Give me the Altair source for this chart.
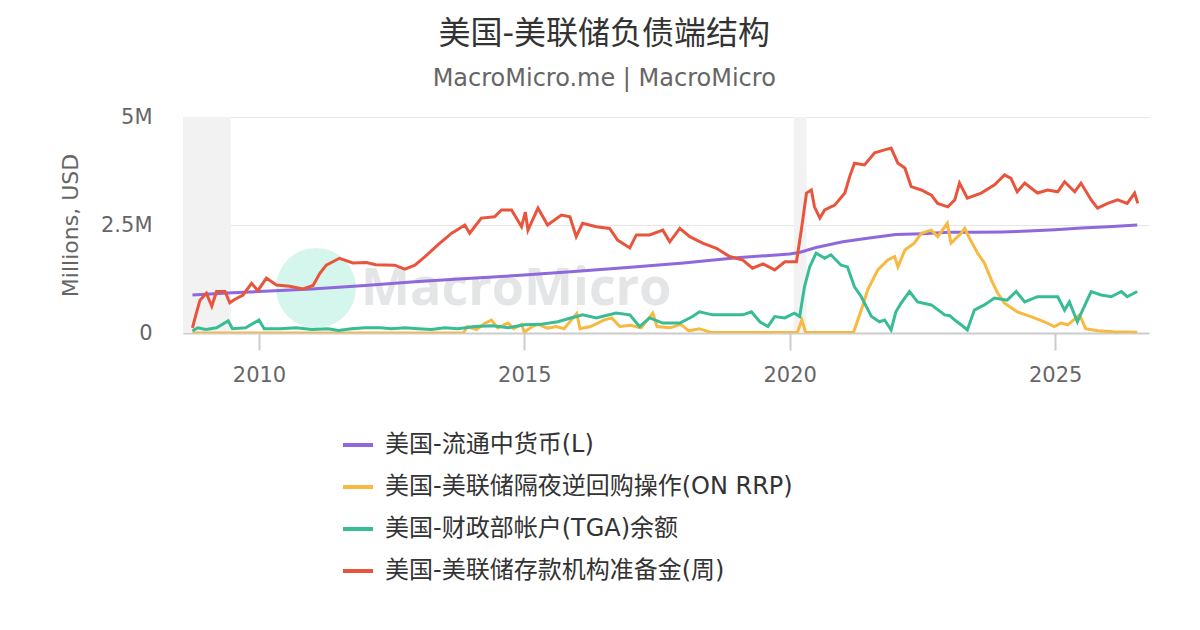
import altair as alt
import pandas as pd

FONT = "DejaVu Sans, 'Noto Sans CJK SC', sans-serif"

# ---- series names / colours (legend order) ----
names = ["美国-流通中货币(L)", "美国-美联储隔夜逆回购操作(ON RRP)",
         "美国-财政部帐户(TGA)余额", "美国-美联储存款机构准备金(周)"]
colors = ["#8f68dc", "#f7b940", "#38bc96", "#e8553c"]

# ---- currency in circulation (values in M of USD millions) ----
cur_t = [2008.75, 2009.5, 2010.0, 2011.0, 2012.0, 2013.0, 2014.0, 2015.0, 2016.0,
         2017.0, 2018.0, 2019.0, 2019.56, 2020.0, 2020.2, 2020.5, 2021.0, 2021.5,
         2022.0, 2022.5, 2023.0, 2023.5, 2024.0, 2024.5, 2025.0, 2025.5, 2026.0, 2026.55]
cur_v = [0.88, 0.93, 0.96, 1.02, 1.10, 1.19, 1.27, 1.34, 1.43,
         1.52, 1.62, 1.74, 1.79, 1.83, 1.87, 1.98, 2.11, 2.20,
         2.28, 2.30, 2.33, 2.33, 2.34, 2.36, 2.39, 2.43, 2.46, 2.50]

# ---- ON RRP ----
rrp_t = [2008.75, 2013.85, 2013.93, 2014.1, 2014.25, 2014.38, 2014.5, 2014.69, 2014.8,
         2014.95, 2015.0, 2015.15, 2015.26, 2015.44, 2015.6, 2015.75, 2015.99, 2016.05,
         2016.25, 2016.5, 2016.65, 2016.8, 2017.0, 2017.2, 2017.42, 2017.5, 2017.75,
         2017.95, 2018.1, 2018.3, 2018.5, 2019.0, 2019.5, 2020.15, 2020.23, 2020.3,
         2021.2, 2021.35, 2021.47, 2021.66, 2021.85, 2021.98, 2022.04, 2022.17, 2022.35,
         2022.48, 2022.67, 2022.79, 2022.97, 2023.04, 2023.23, 2023.3, 2023.39, 2023.54,
         2023.67, 2023.8, 2023.92, 2024.05, 2024.29, 2024.55, 2024.8, 2024.99, 2025.11,
         2025.24, 2025.46, 2025.58, 2025.8, 2026.1, 2026.55]
rrp_v = [0.0, 0.0, 0.15, 0.08, 0.22, 0.30, 0.12, 0.23, 0.10,
         0.20, 0.02, 0.15, 0.20, 0.11, 0.15, 0.10, 0.45, 0.10,
         0.15, 0.30, 0.35, 0.15, 0.18, 0.12, 0.46, 0.15, 0.12,
         0.20, 0.05, 0.10, 0.02, 0.01, 0.01, 0.02, 0.30, 0.02,
         0.01, 0.53, 1.00, 1.46, 1.69, 1.77, 1.53, 1.92, 2.08,
         2.31, 2.38, 2.23, 2.54, 2.08, 2.31, 2.42, 2.19, 1.85,
         1.62, 1.23, 0.92, 0.69, 0.49, 0.38, 0.26, 0.15, 0.23,
         0.19, 0.42, 0.10, 0.05, 0.03, 0.02]

# ---- Treasury General Account ----
tga_t = [2008.75, 2008.85, 2009.0, 2009.2, 2009.42, 2009.5, 2009.75, 2010.0, 2010.1,
         2010.4, 2010.7, 2011.0, 2011.3, 2011.5, 2011.75, 2012.0, 2012.3, 2012.5,
         2012.75, 2013.0, 2013.25, 2013.5, 2013.75, 2014.07, 2014.4, 2014.7, 2015.0,
         2015.3, 2015.63, 2015.86, 2016.1, 2016.36, 2016.73, 2016.99, 2017.17, 2017.36,
         2017.61, 2017.93, 2018.17, 2018.3, 2018.55, 2018.87, 2019.12, 2019.28, 2019.44,
         2019.59, 2019.72, 2019.91, 2020.09, 2020.19, 2020.28, 2020.38, 2020.5, 2020.66,
         2020.78, 2020.97, 2021.09, 2021.22, 2021.35, 2021.54, 2021.69, 2021.79, 2021.91,
         2022.0, 2022.1, 2022.26, 2022.41, 2022.67, 2022.92, 2023.02, 2023.11, 2023.23,
         2023.35, 2023.48, 2023.67, 2023.86, 2024.1, 2024.27, 2024.43, 2024.67, 2024.93,
         2025.05, 2025.18, 2025.27, 2025.42, 2025.52, 2025.68, 2025.87, 2026.06, 2026.25,
         2026.36, 2026.55]
tga_v = [0.05, 0.12, 0.08, 0.12, 0.28, 0.10, 0.12, 0.30, 0.10,
         0.10, 0.12, 0.08, 0.10, 0.06, 0.10, 0.12, 0.12, 0.10,
         0.12, 0.10, 0.08, 0.12, 0.10, 0.15, 0.17, 0.12, 0.19,
         0.20, 0.26, 0.34, 0.42, 0.35, 0.46, 0.42, 0.15, 0.35,
         0.23, 0.23, 0.38, 0.49, 0.42, 0.42, 0.42, 0.49, 0.26,
         0.15, 0.38, 0.35, 0.46, 0.38, 1.07, 1.53, 1.85, 1.73,
         1.81, 1.57, 1.53, 1.07, 0.84, 0.38, 0.26, 0.30, 0.07,
         0.49, 0.69, 0.96, 0.72, 0.65, 0.42, 0.40, 0.30, 0.19,
         0.07, 0.53, 0.65, 0.81, 0.76, 0.96, 0.72, 0.84, 0.84,
         0.84, 0.53, 0.72, 0.26, 0.53, 0.96, 0.88, 0.84, 0.96,
         0.84, 0.96]

# ---- reserve balances (weekly) ----
res_t = [2008.75, 2008.82, 2008.89, 2009.01, 2009.11, 2009.2, 2009.36, 2009.45, 2009.55,
         2009.7, 2009.86, 2009.98, 2010.14, 2010.33, 2010.58, 2010.83, 2011.02, 2011.15,
         2011.27, 2011.52, 2011.77, 2012.03, 2012.2, 2012.56, 2012.75, 2012.94, 2013.13,
         2013.37, 2013.63, 2013.88, 2013.97, 2014.19, 2014.44, 2014.57, 2014.76, 2014.95,
         2015.02, 2015.07, 2015.26, 2015.44, 2015.7, 2015.86, 2015.98, 2016.1, 2016.36,
         2016.61, 2016.76, 2016.99, 2017.11, 2017.36, 2017.61, 2017.74, 2017.93, 2018.12,
         2018.36, 2018.62, 2018.87, 2019.12, 2019.3, 2019.5, 2019.72, 2019.91, 2020.13,
         2020.22, 2020.32, 2020.41, 2020.47, 2020.57, 2020.66, 2020.85, 2021.04, 2021.13,
         2021.22, 2021.41, 2021.6, 2021.79, 2021.91, 2022.04, 2022.17, 2022.29, 2022.48,
         2022.67, 2022.79, 2022.98, 2023.11, 2023.2, 2023.35, 2023.61, 2023.86, 2024.05,
         2024.17, 2024.29, 2024.43, 2024.67, 2024.86, 2025.05, 2025.18, 2025.37, 2025.49,
         2025.68, 2025.8, 2025.99, 2026.18, 2026.36, 2026.5, 2026.56]
res_v = [0.12, 0.45, 0.76, 0.92, 0.62, 0.96, 0.96, 0.70, 0.78,
         0.88, 1.15, 0.98, 1.27, 1.11, 1.08, 1.02, 1.10, 1.38,
         1.57, 1.73, 1.62, 1.63, 1.58, 1.57, 1.48, 1.57, 1.77,
         2.04, 2.31, 2.50, 2.31, 2.66, 2.69, 2.85, 2.85, 2.46,
         2.80, 2.38, 2.89, 2.50, 2.73, 2.69, 2.23, 2.54, 2.46,
         2.42, 2.15, 1.97, 2.27, 2.27, 2.38, 2.11, 2.42, 2.23,
         2.08, 1.96, 1.77, 1.69, 1.50, 1.60, 1.46, 1.65, 1.65,
         2.38, 3.24, 3.31, 2.92, 2.66, 2.85, 2.96, 3.24, 3.62,
         3.93, 3.89, 4.17, 4.24, 4.28, 3.93, 3.82, 3.39, 3.31,
         3.19, 3.00, 2.92, 3.08, 3.47, 3.12, 3.24, 3.43, 3.66,
         3.58, 3.27, 3.47, 3.24, 3.31, 3.27, 3.50, 3.27, 3.47,
         3.08, 2.89, 3.00, 3.08, 3.00, 3.24, 3.00]

# ---- recession shading (start, end) ----
rec_start = [2008.57, 2020.08]
rec_end = [2009.47, 2020.32]

x_range = [2008.57, 2026.77]
y_ticks = [0, 2.5, 5]
x_ticks = [2010, 2015, 2020, 2025]


def to_date(t):
    y = int(t)
    d = pd.Timestamp(year=y, month=1, day=1) + pd.Timedelta(days=(t - y) * 365.25)
    return d.strftime("%Y-%m-%d")


def frame(ts, vs, name):
    return pd.DataFrame({"date": [to_date(t) for t in ts], "value": vs, "series": name})


series_frames = [frame(cur_t, cur_v, names[0]), frame(rrp_t, rrp_v, names[1]),
                 frame(tga_t, tga_v, names[2]), frame(res_t, res_v, names[3])]

rec_df = pd.DataFrame({"start": [to_date(t) for t in rec_start],
                       "end": [to_date(t) for t in rec_end],
                       "y0": [y_ticks[0]] * 2, "y1": [y_ticks[-1]] * 2})

W, H = 966, 216

x_scale = alt.Scale(domain=[to_date(x_range[0]), to_date(x_range[1])])
y_scale = alt.Scale(domain=[y_ticks[0], y_ticks[-1]])

x_axis = alt.Axis(values=[alt.DateTime(year=y, month=1, date=1) for y in x_ticks],
                  format="%Y", title=None, grid=False,
                  labelFont=FONT, labelFontSize=21, labelColor="#666666",
                  labelPadding=14, tickColor="#cccccc", tickSize=17, tickWidth=2,
                  domainColor="#cccccc", domainWidth=2)
y_axis = alt.Axis(values=y_ticks, title="Millions, USD",
                  labelExpr="datum.value == 0 ? '0' : datum.value + 'M'",
                  labelFont=FONT, labelFontSize=21, labelColor="#666666",
                  labelPadding=31, titleFont=FONT, titleFontSize=22,
                  titleFontWeight="normal", titleColor="#666666", titlePadding=18,
                  domain=False, ticks=False, gridColor="#e6e6e6", gridWidth=1)

shade = alt.Chart(rec_df).mark_rect(color="#f2f2f2").encode(
    x=alt.X("start:T", scale=x_scale, axis=x_axis),
    x2="end:T",
    y=alt.Y("y0:Q", scale=y_scale, axis=y_axis),
    y2="y1:Q",
)

one = pd.DataFrame({"k": [0]})
logo = alt.Chart(one).mark_circle(size=6400, color="#d5f6ec", opacity=1).encode(
    x=alt.value(133), y=alt.value(171))
logo_text = alt.Chart(one).mark_text(
    text="MacroMicro", font="Open Sans", fontSize=52, fontWeight="bold",
    color="#e4e5e6", align="left", baseline="middle").encode(
    x=alt.value(178), y=alt.value(172))

color_scale = alt.Scale(domain=names, range=colors)
legend = alt.Legend(orient="none", legendX=158, legendY=311, direction="vertical",
                    title=None, symbolType="stroke", symbolStrokeWidth=4,
                    symbolSize=900, labelFont=FONT, labelFontSize=24,
                    labelColor="#333333", labelOffset=10, rowPadding=13,
                    labelLimit=800)

lines = []
for df in series_frames:
    lines.append(alt.Chart(df).mark_line(strokeWidth=3, clip=True).encode(
        x=alt.X("date:T", scale=x_scale, axis=x_axis),
        y=alt.Y("value:Q", scale=y_scale, axis=y_axis),
        color=alt.Color("series:N", scale=color_scale, legend=legend),
    ))

chart = alt.layer(shade, logo, logo_text, *lines).properties(
    width=W, height=H,
    padding={"left": 51, "top": 10, "right": 5, "bottom": 5},
    title=alt.TitleParams(text="美国-美联储负债端结构",
                          subtitle="MacroMicro.me | MacroMicro",
                          font=FONT, subtitleFont=FONT, fontSize=32,
                          subtitleFontSize=24, fontWeight="normal",
                          color="#333333", subtitleColor="#666666",
                          anchor="middle", frame="bounds", dx=0,
                          subtitlePadding=16, offset=14),
).configure_view(stroke=None)

chart.save("out.html", embed_options={"renderer": "svg", "actions": False})
